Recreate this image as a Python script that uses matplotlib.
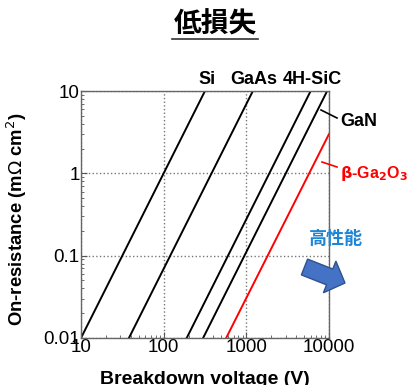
import numpy as np
import matplotlib
matplotlib.use("Agg")
import matplotlib.pyplot as plt
from matplotlib.patches import FancyArrow
from matplotlib.ticker import FixedLocator, FixedFormatter, LogLocator, NullFormatter

plt.rcParams['font.family'] = ['Liberation Sans', 'Noto Sans CJK JP', 'DejaVu Sans']

# limit lines: (V, Ron) at both ends
materials = ['Si', 'GaAs', '4H-SiC', 'GaN', r'$\beta$-Ga$_2$O$_3$']
v_start = [10, 38, 190, 300, 570]
v_end = [316, 1200, 6000, 9500, 10000]
ron_start = [0.01, 0.01, 0.01, 0.01, 0.01]
ron_end = [10, 10, 10, 10, 3.0]
colors = ['black', 'black', 'black', 'black', 'red']

x_ticks = [10, 100, 1000, 10000]
x_labels = ['10', '100', '1000', '10000']
y_ticks = [0.01, 0.1, 1, 10]
y_labels = ['0.01', '0.1', '1', '10']

W, H = 411, 385
fig = plt.figure(figsize=(W / 100, H / 100), dpi=100)

def px(x, y):
    # pixel coords (top-left origin) -> figure fraction
    return x / W, 1 - y / H

l, t = px(81, 91)
r, b = px(329, 338)
ax = fig.add_axes([l, b, r - l, t - b])

for i in range(len(materials)):
    ax.plot([v_start[i], v_end[i]], [ron_start[i], ron_end[i]], color=colors[i], lw=1.4)

ax.set_xscale('log')
ax.set_yscale('log')
ax.set_xlim(10, 10000)
ax.set_ylim(0.01, 10)
ax.xaxis.set_major_locator(FixedLocator(x_ticks))
ax.xaxis.set_major_formatter(FixedFormatter(x_labels))
ax.yaxis.set_major_locator(FixedLocator(y_ticks))
ax.yaxis.set_major_formatter(FixedFormatter(y_labels))
ax.xaxis.set_minor_locator(LogLocator(base=10, subs=np.arange(2, 10)))
ax.yaxis.set_minor_locator(LogLocator(base=10, subs=np.arange(2, 10)))
ax.xaxis.set_minor_formatter(NullFormatter())
ax.yaxis.set_minor_formatter(NullFormatter())
ax.tick_params(which='both', direction='in', color='#555555')
ax.tick_params(which='major', length=4, labelsize=13.5, pad=1)
ax.tick_params(which='minor', length=2.5)
for s in ax.spines.values():
    s.set_color('#666666')
    s.set_linewidth(1.0)
ax.grid(True, which='major', linestyle=':', color='#777777', lw=1.0)

# axis titles placed by pixel position
fig.text(*px(205, 379), 'Breakdown voltage (V)', ha='center', va='center',
         fontsize=14, fontweight='bold')
fig.text(*px(17, 219), 'On-resistance (m$\\Omega$ cm$^2$)', ha='center', va='center',
         rotation=90, fontsize=13.3, fontweight='bold')

# material labels
lab_kw = dict(fontsize=13, fontweight='bold', va='center')
fig.text(*px(198, 80), 'Si', ha='left', **lab_kw)
fig.text(*px(230, 80), 'GaAs', ha='left', **lab_kw)
fig.text(*px(283, 80), '4H-SiC', ha='left', **lab_kw)
fig.text(*px(340, 121), 'GaN', ha='left', **lab_kw)
fig.text(*px(340, 174), r'$\mathbf{\beta}$-Ga$_\mathbf{2}$O$_\mathbf{3}$', ha='left', color='red',
         fontsize=11.5, fontweight='bold', va='center')

# leader lines
fig.add_artist(plt.Line2D(*zip(px(321, 110), px(337, 118)), color='black', lw=1.2))
fig.add_artist(plt.Line2D(*zip(px(322, 162), px(337, 167)), color='red', lw=1.2))

# title
fig.text(*px(215, 24), '低損失', ha='center', va='center', fontsize=20, fontweight='bold',
         family=['Noto Sans CJK JP'])
fig.add_artist(plt.Line2D(*zip(px(172, 39), px(258, 39)), color='#333333', lw=1.2))

# performance arrow (drawn in inches so widths stay isotropic)
fig.text(*px(336, 238), '高性能', ha='center', va='center', fontsize=13, fontweight='bold',
         color='#1f86d6', family=['Noto Sans CJK JP'])
x0, y0 = 304.5 / 100, (H - 267) / 100
x1, y1 = 345 / 100, (H - 283) / 100
arr = FancyArrow(x0, y0, x1 - x0, y1 - y0, width=0.17, head_width=0.34,
                 head_length=0.165, length_includes_head=True,
                 transform=fig.dpi_scale_trans, facecolor='#4472c4', edgecolor='#2f528f', lw=1)
fig.add_artist(arr)

fig.savefig('out.png', dpi=100)
